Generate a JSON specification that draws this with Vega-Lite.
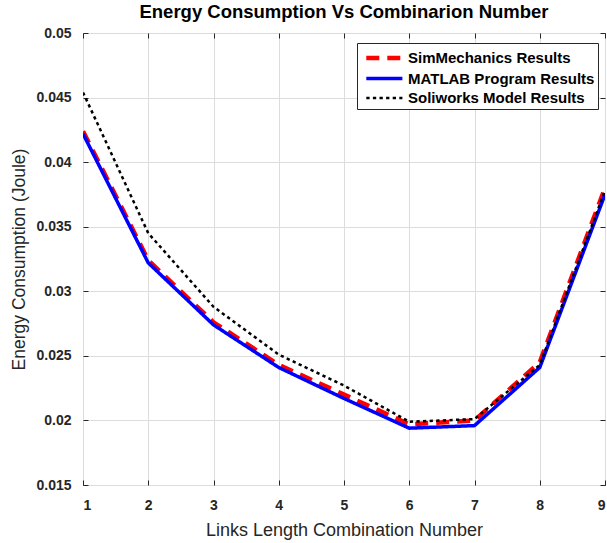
{
  "$schema": "https://vega.github.io/schema/vega-lite/v6.json",
  "width": 522,
  "height": 452,
  "autosize": {"type": "none"},
  "padding": {"left": 83, "top": 33, "right": 2, "bottom": 58},
  "background": "white",
  "title": {"text": "Energy Consumption Vs Combinarion Number", "font": "Liberation Sans", "fontSize": 18.5, "fontWeight": "bold", "color": "#000000", "offset": 5},
  "config": {
    "view": {"stroke": "#262626", "strokeWidth": 1},
    "axis": {"labelFont": "Liberation Sans", "titleFont": "Liberation Sans", "labelFontWeight": "bold", "labelFontSize": 14, "labelColor": "#262626", "titleFontWeight": "normal", "titleFontSize": 18, "titleColor": "#262626", "gridColor": "#dcdcdc", "gridWidth": 1, "domain": false, "tickColor": "#262626", "tickSize": -5}
  },
  "data": {"values": [
    {"x": 1, "v": 0.0424, "s": "SimMechanics Results"},
    {"x": 2, "v": 0.0324, "s": "SimMechanics Results"},
    {"x": 3, "v": 0.0276, "s": "SimMechanics Results"},
    {"x": 4, "v": 0.0243, "s": "SimMechanics Results"},
    {"x": 5, "v": 0.0220, "s": "SimMechanics Results"},
    {"x": 6, "v": 0.0197, "s": "SimMechanics Results"},
    {"x": 7, "v": 0.0200, "s": "SimMechanics Results"},
    {"x": 8, "v": 0.0245, "s": "SimMechanics Results"},
    {"x": 9, "v": 0.0380, "s": "SimMechanics Results"},
    {"x": 1, "v": 0.0422, "s": "MATLAB Program Results"},
    {"x": 2, "v": 0.0322, "s": "MATLAB Program Results"},
    {"x": 3, "v": 0.0274, "s": "MATLAB Program Results"},
    {"x": 4, "v": 0.0241, "s": "MATLAB Program Results"},
    {"x": 5, "v": 0.0217, "s": "MATLAB Program Results"},
    {"x": 6, "v": 0.0194, "s": "MATLAB Program Results"},
    {"x": 7, "v": 0.0196, "s": "MATLAB Program Results"},
    {"x": 8, "v": 0.0241, "s": "MATLAB Program Results"},
    {"x": 9, "v": 0.0375, "s": "MATLAB Program Results"},
    {"x": 1, "v": 0.0454, "s": "Soliworks Model Results"},
    {"x": 2, "v": 0.0345, "s": "Soliworks Model Results"},
    {"x": 3, "v": 0.0288, "s": "Soliworks Model Results"},
    {"x": 4, "v": 0.0251, "s": "Soliworks Model Results"},
    {"x": 5, "v": 0.0227, "s": "Soliworks Model Results"},
    {"x": 6, "v": 0.0199, "s": "Soliworks Model Results"},
    {"x": 7, "v": 0.0201, "s": "Soliworks Model Results"},
    {"x": 8, "v": 0.0243, "s": "Soliworks Model Results"},
    {"x": 9, "v": 0.0378, "s": "Soliworks Model Results"}
  ]},
  "layer": [
    {
      "mark": {"type": "line", "clip": true},
      "encoding": {
        "x": {"field": "x", "type": "quantitative", "scale": {"domain": [1, 9], "nice": false, "zero": false}, "axis": {"values": [1,2,3,4,5,6,7,8,9], "title": "Links Length Combination Number", "titlePadding": 9, "labelPadding": 18}},
        "y": {"field": "v", "type": "quantitative", "scale": {"domain": [0.015, 0.05], "nice": false, "zero": false}, "axis": {"values": [0.015,0.02,0.025,0.03,0.035,0.04,0.045,0.05], "format": ".3~f", "title": "Energy Consumption  (Joule)", "titleFontSize": 17.5, "titlePadding": 7, "labelPadding": 17}},
        "color": {"field": "s", "type": "nominal", "sort": ["SimMechanics Results", "MATLAB Program Results", "Soliworks Model Results"], "scale": {"domain": ["SimMechanics Results", "MATLAB Program Results", "Soliworks Model Results"], "range": ["#ff0000", "#0000ff", "#000000"]}, "legend": {"title": null, "orient": "none", "legendX": 274, "legendY": 10, "strokeColor": "#262626", "fillColor": "white", "padding": 3, "labelFont": "Liberation Sans", "labelFontSize": 15, "labelFontWeight": "bold", "labelColor": "#000000", "labelLimit": 0, "symbolType": "M-0.6,0H3.2", "symbolSize": 361, "rowPadding": 0, "labelOffset": 24}},
        "strokeDash": {"field": "s", "type": "nominal", "sort": ["SimMechanics Results", "MATLAB Program Results", "Soliworks Model Results"], "scale": {"domain": ["SimMechanics Results", "MATLAB Program Results", "Soliworks Model Results"], "range": [[13, 8], [1, 0], [3.3, 3.3]]}, "legend": null},
        "strokeWidth": {"field": "s", "type": "nominal", "scale": {"domain": ["SimMechanics Results", "MATLAB Program Results", "Soliworks Model Results"], "range": [4.5, 2.5, 3.5]}, "legend": null},
        "order": {"field": "x"}
      }
    },
    {
      "mark": {"type": "rule", "opacity": 0},
      "encoding": {
        "x": {"datum": 1, "type": "quantitative", "axis": {"orient": "top", "values": [1,2,3,4,5,6,7,8,9], "labels": false, "grid": false, "title": null}},
        "y": {"datum": 0.05, "type": "quantitative", "axis": {"orient": "right", "values": [0.015,0.02,0.025,0.03,0.035,0.04,0.045,0.05], "labels": false, "grid": false, "title": null}}
      }
    }
  ],
  "resolve": {"axis": {"x": "independent", "y": "independent"}}
}
